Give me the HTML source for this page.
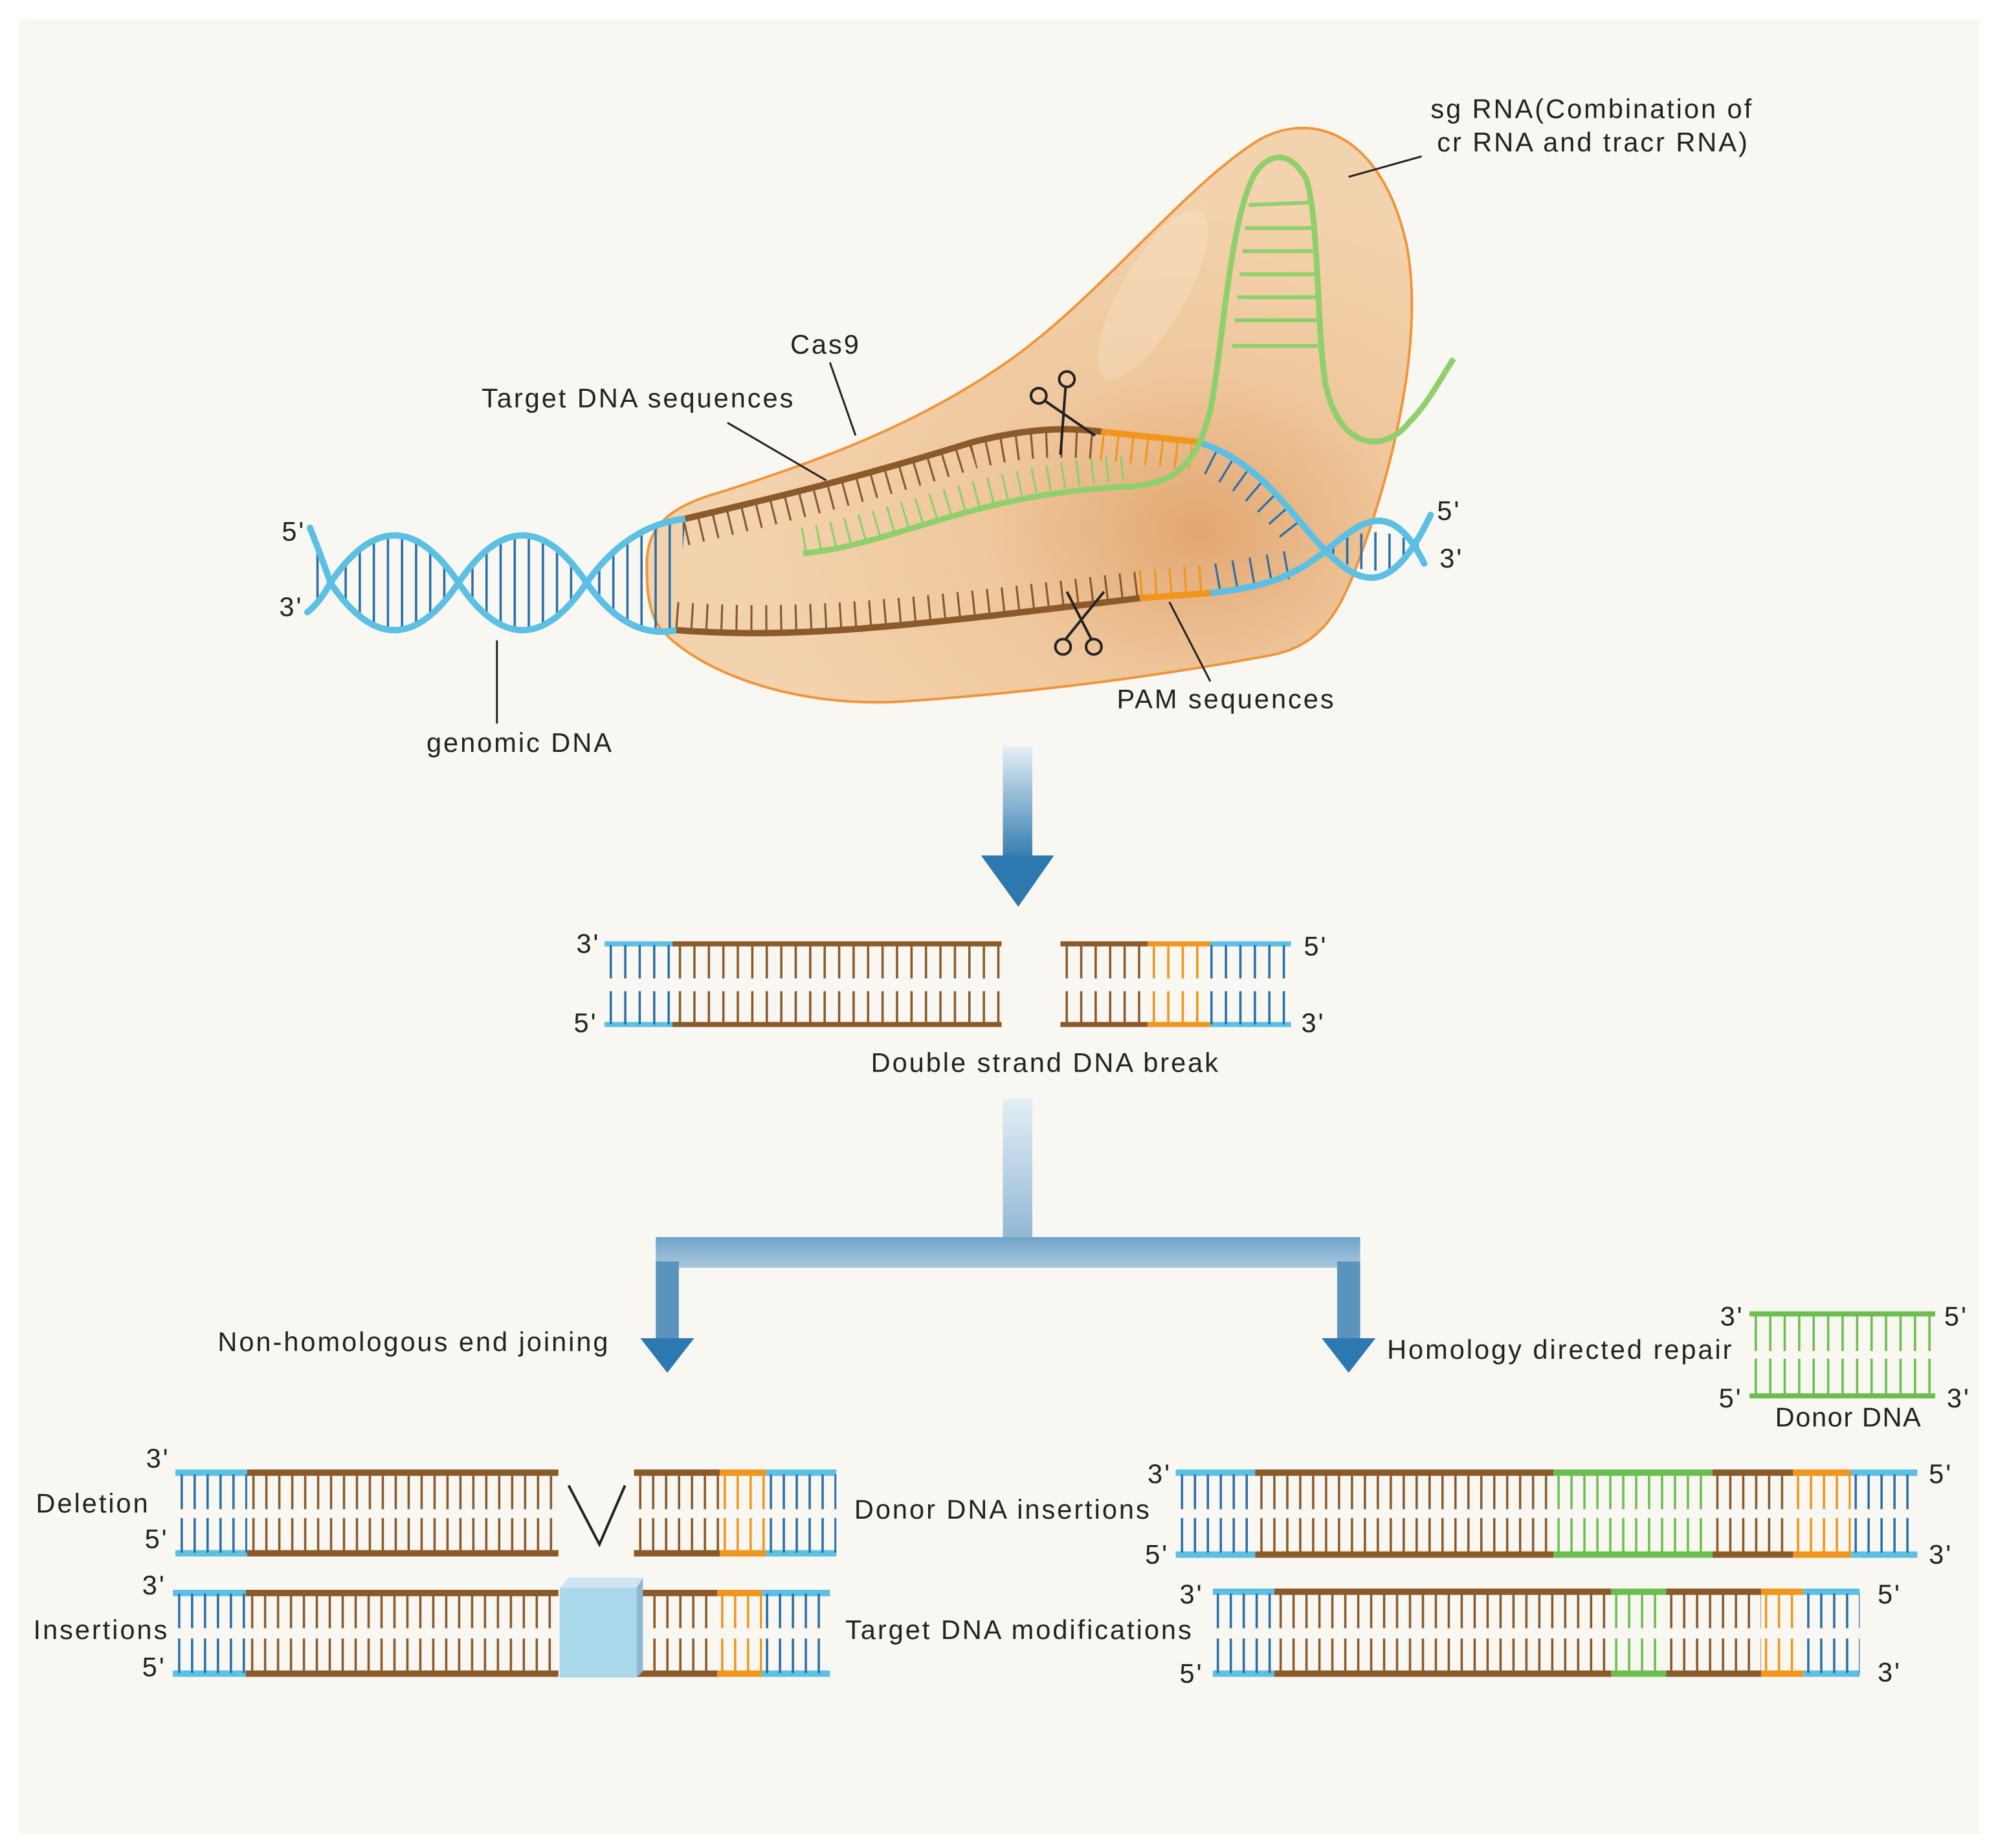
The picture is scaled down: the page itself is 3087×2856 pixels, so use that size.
<!DOCTYPE html>
<html><head><meta charset="utf-8"><style>
html,body{margin:0;padding:0;background:#fff}
svg{display:block}
text{font-family:"Liberation Sans",Arial,sans-serif;fill:#222;font-size:21px;letter-spacing:1.5px}
</style></head><body>
<svg width="3087" height="2856" viewBox="0 0 1560 1443" xmlns="http://www.w3.org/2000/svg">
<defs>
<radialGradient id="cas" cx="0.72" cy="0.7" r="0.6">
<stop offset="0" stop-color="#e2a772"/><stop offset="0.45" stop-color="#efc79c"/><stop offset="1" stop-color="#f3d3ae"/></radialGradient>
<linearGradient id="arv" x1="0" y1="0" x2="0" y2="1"><stop offset="0" stop-color="#e4eef5"/><stop offset="1" stop-color="#2d78ae"/></linearGradient>
<linearGradient id="arv2" x1="0" y1="0" x2="0" y2="1"><stop offset="0" stop-color="#e4eef5"/><stop offset="1" stop-color="#8db5d3"/></linearGradient>
<linearGradient id="arh" x1="0" y1="0" x2="0" y2="1"><stop offset="0" stop-color="#6fa3c8"/><stop offset="1" stop-color="#a9c7dd"/></linearGradient>
<clipPath id="hx">
<path d="M258,455 Q308,529 358,455 Q308,381 258,455Z M358,455 Q408,381 458,455 Q408,529 358,455Z M458,455 Q490,500 528,492 L535,405 Q490,410 458,455Z M240,478 L258,455 L242,412Z"/>
<path d="M1035,430 Q1070,402 1112,428 Q1075,462 1035,430Z"/>
</clipPath>
</defs>
<rect width="1560" height="1443" fill="#fff"/>
<rect x="15" y="15" width="1531" height="1417" fill="#f8f7f2"/>

<!-- Cas9 -->
<path d="M505,440 C505,410 525,395 560,385 C640,360 720,330 790,280 C860,230 930,140 985,108 C1030,85 1080,110 1098,190 C1112,260 1090,360 1060,440 C1045,480 1030,505 990,512 C920,525 820,540 700,548 C610,552 540,520 515,490 C505,475 505,455 505,440Z" fill="url(#cas)" stroke="#f0953a" stroke-width="2"/>
<ellipse cx="900" cy="230" rx="25" ry="75" fill="#fbe8d4" opacity="0.3" transform="rotate(30 900 230)"/>

<!-- helix rungs -->
<g clip-path="url(#hx)">
<line x1="236" y1="455" x2="540" y2="455" stroke="#2a6fa8" stroke-width="140" stroke-dasharray="1.8 9.2"/>
<line x1="930" y1="430" x2="1115" y2="430" stroke="#2a6fa8" stroke-width="140" stroke-dasharray="1.8 9.2"/>
</g>

<!-- ticks inside -->
<path d="M535,415 C620,395 680,380 760,355 C800,345 830,345 860,348" fill="none" stroke="#8b5a2b" stroke-width="22" stroke-dasharray="1.6 10"/>
<path d="M860,348 L930,356" fill="none" stroke="#f0961e" stroke-width="22" stroke-dasharray="1.6 10"/>
<path d="M945,360 C975,375 995,395 1012,418" fill="none" stroke="#2a6fa8" stroke-width="22" stroke-dasharray="1.6 12"/>
<path d="M528,481 C620,488 700,480 890,457" fill="none" stroke="#8b5a2b" stroke-width="22" stroke-dasharray="1.6 10"/>
<path d="M890,456 L945,452" fill="none" stroke="#f0961e" stroke-width="22" stroke-dasharray="1.6 10"/>
<path d="M950,451 L1012,440" fill="none" stroke="#2a6fa8" stroke-width="22" stroke-dasharray="1.6 12"/>

<!-- helix strands -->
<g fill="none" stroke="#5bc0e3" stroke-width="5" stroke-linecap="round">
<path d="M242,412 Q250,432 258,455 Q308,529 358,455 Q408,381 458,455 Q490,500 528,492"/>
<path d="M240,478 Q250,470 258,455 Q308,381 358,455 Q408,529 458,455 Q490,410 535,405"/>
<path d="M935,345 C985,360 1010,405 1035,430 C1060,455 1085,470 1117,402"/>
<path d="M945,463 C990,458 1010,450 1035,430 C1060,410 1085,385 1112,440"/>
</g>
<path d="M535,405 C620,385 680,370 760,345 C800,335 830,333 860,337" fill="none" stroke="#8b5a2b" stroke-width="5"/>
<path d="M860,337 L935,345" fill="none" stroke="#f0961e" stroke-width="5"/>
<path d="M528,492 C620,499 700,490 890,467" fill="none" stroke="#8b5a2b" stroke-width="5"/>
<path d="M890,467 L945,463" fill="none" stroke="#f0961e" stroke-width="5"/>

<!-- sgRNA -->
<path d="M627,422 C700,410 760,375 880,365" fill="none" stroke="#8fcf6c" stroke-width="20" stroke-dasharray="1.6 10"/>
<g stroke="#8fcf6c" stroke-width="3">
<line x1="975" y1="160" x2="1022" y2="158"/><line x1="972" y1="178" x2="1024" y2="178"/><line x1="970" y1="196" x2="1025" y2="196"/><line x1="968" y1="214" x2="1026" y2="214"/><line x1="966" y1="232" x2="1027" y2="232"/><line x1="964" y1="250" x2="1028" y2="250"/><line x1="962" y1="270" x2="1029" y2="270"/>
</g>
<path d="M627,432 C700,425 760,385 880,380 C920,378 935,360 945,320 C955,270 960,170 980,135 C992,118 1008,118 1020,140 C1030,170 1028,260 1035,300 C1045,350 1080,355 1100,330 C1115,315 1125,295 1135,280" fill="none" stroke="#8fcf6c" stroke-width="4.5"/>

<!-- scissors -->
<g fill="none" stroke="#222" stroke-width="2">
<circle cx="811" cy="309" r="6"/><circle cx="833" cy="296" r="6"/>
<line x1="816" y1="313" x2="855" y2="340"/><line x1="832" y1="302" x2="828" y2="355"/>
<circle cx="830" cy="505" r="6"/><circle cx="854" cy="505" r="6"/>
<line x1="832" y1="499" x2="862" y2="462"/><line x1="852" y1="499" x2="833" y2="462"/>
</g>

<!-- top labels -->
<text x="1117" y="92">sg RNA(Combination of</text>
<text x="1122" y="118">cr RNA and tracr RNA)</text>
<text x="617" y="276">Cas9</text>
<text x="376" y="318">Target DNA sequences</text>
<text x="333" y="587">genomic DNA</text>
<text x="872" y="553">PAM sequences</text>
<g font-size="17" style="letter-spacing:0">
<text x="220" y="422">5'</text>
<text x="218" y="481">3'</text>
<text x="1122" y="406">5'</text>
<text x="1124" y="443">3'</text>
</g>
<g stroke="#222" stroke-width="1.5">
<line x1="1110" y1="122" x2="1053" y2="138"/><line x1="648" y1="283" x2="668" y2="340"/>
<line x1="568" y1="330" x2="645" y2="375"/><line x1="388" y1="565" x2="388" y2="500"/>
<line x1="945" y1="532" x2="913" y2="470"/>
</g>

<!-- arrows -->
<rect x="783" y="583" width="23" height="90" fill="url(#arv)"/>
<polygon points="766,668 823,668 795,708" fill="#2d78ae"/>
<rect x="783" y="858" width="23" height="115" fill="url(#arv2)"/>
<rect x="512" y="966" width="550" height="24" fill="url(#arh)"/>
<rect x="512" y="985" width="18" height="62" fill="#5b93bd"/>
<rect x="1044" y="985" width="18" height="62" fill="#5b93bd"/>
<polygon points="500,1045 542,1045 521,1072" fill="#2d78ae"/>
<polygon points="1032,1045 1074,1045 1053,1072" fill="#2d78ae"/>

<!-- mid ladder -->
<g stroke-width="4">
<line x1="472" y1="737" x2="525" y2="737" stroke="#5bc0e3"/><line x1="472" y1="800" x2="525" y2="800" stroke="#5bc0e3"/>
<line x1="525" y1="737" x2="782" y2="737" stroke="#8b5a2b"/><line x1="525" y1="800" x2="782" y2="800" stroke="#8b5a2b"/>
<line x1="828" y1="737" x2="896" y2="737" stroke="#8b5a2b"/><line x1="828" y1="800" x2="896" y2="800" stroke="#8b5a2b"/>
<line x1="896" y1="737" x2="945" y2="737" stroke="#f0961e"/><line x1="896" y1="800" x2="945" y2="800" stroke="#f0961e"/>
<line x1="945" y1="737" x2="1008" y2="737" stroke="#5bc0e3"/><line x1="945" y1="800" x2="1008" y2="800" stroke="#5bc0e3"/>
</g>
<g stroke-dasharray="1.8 9.5">
<path d="M476,751H525M476,787H525M945,751H1006M945,787H1006" stroke="#2a6fa8" stroke-width="26"/>
<path d="M530,751H782M530,787H782M832,751H896M832,787H896" stroke="#8b5a2b" stroke-width="26"/>
<path d="M900,751H945M900,787H945" stroke="#f0961e" stroke-width="26"/>
</g>
<g font-size="17" style="letter-spacing:0">
<text x="450" y="744">3'</text><text x="448" y="806">5'</text>
<text x="1018" y="746">5'</text><text x="1016" y="806">3'</text>
</g>
<text x="680" y="837">Double strand DNA break</text>

<text x="170" y="1055">Non-homologous end joining</text>
<text x="1083" y="1061">Homology directed repair</text>

<!-- donor DNA -->
<g stroke="#6cbf4f">
<line x1="1366" y1="1026" x2="1511" y2="1026" stroke-width="4"/><line x1="1366" y1="1090" x2="1511" y2="1090" stroke-width="4"/>
<path d="M1370,1041H1511M1370,1075H1511" stroke-width="28" stroke-dasharray="1.8 9.5"/>
</g>
<g font-size="17" style="letter-spacing:0">
<text x="1343" y="1035">3'</text><text x="1342" y="1099">5'</text>
<text x="1518" y="1035">5'</text><text x="1520" y="1099">3'</text>
<text x="1386" y="1114" style="letter-spacing:0.8px">Donor DNA</text>
</g>

<!-- bottom ladders -->
<g stroke-width="5">
<path d="M137,1150H193M137,1213H193M598,1150H653M598,1213H653M135,1244H192M135,1307H192M595,1244H648M595,1307H648" stroke="#5bc0e3"/>
<path d="M193,1150H436M193,1213H436M495,1150H562M495,1213H562M192,1244H436M192,1307H436M497,1244H560M497,1307H560" stroke="#8b5a2b"/>
<path d="M562,1150H598M562,1213H598M560,1244H595M560,1307H595" stroke="#f0961e"/>
<path d="M918,1150H980M918,1214H980M1445,1150H1497M1445,1214H1497M947,1243H995M947,1307H995M1408,1243H1452M1408,1307H1452" stroke="#5bc0e3"/>
<path d="M980,1150H1213M980,1214H1213M1337,1150H1400M1337,1214H1400M995,1243H1258M995,1307H1258M1301,1243H1375M1301,1307H1375" stroke="#8b5a2b"/>
<path d="M1213,1150H1337M1213,1214H1337M1258,1243H1301M1258,1307H1301" stroke="#6cbf4f"/>
<path d="M1400,1150H1445M1400,1214H1445M1375,1243H1408M1375,1307H1408" stroke="#f0961e"/>
</g>
<g stroke-width="27" stroke-dasharray="1.8 8.3">
<path d="M141,1165H193M141,1199H193M601,1165H653M601,1199H653M139,1258H192M139,1293H192M598,1258H648M598,1293H648" stroke="#2a6fa8"/>
<path d="M197,1165H436M197,1199H436M499,1165H562M499,1199H562M196,1258H436M196,1293H436M500,1258H560M500,1293H560" stroke="#8b5a2b"/>
<path d="M565,1165H598M565,1199H598M563,1258H595M563,1293H595" stroke="#f0961e"/>
<path d="M922,1165H980M922,1199H980M1448,1165H1497M1448,1199H1497M950,1258H995M950,1293H995M1411,1258H1452M1411,1293H1452" stroke="#2a6fa8"/>
<path d="M984,1165H1213M984,1199H1213M1340,1165H1400M1340,1199H1400M999,1258H1258M999,1293H1258M1304,1258H1375M1304,1293H1375" stroke="#8b5a2b"/>
<path d="M1216,1165H1337M1216,1199H1337M1261,1258H1301M1261,1293H1301" stroke="#6cbf4f"/>
<path d="M1403,1165H1445M1403,1199H1445M1378,1258H1408M1378,1293H1408" stroke="#f0961e"/>
</g>
<polyline points="444,1160 468,1206 488,1160" fill="none" stroke="#222" stroke-width="2"/>
<polygon points="437,1240 444,1232 502,1232 497,1240" fill="#cfe6f2"/>
<polygon points="497,1240 502,1232 502,1305 497,1310" fill="#8fb7d4"/>
<rect x="437" y="1240" width="60" height="70" fill="#acd8ec"/>

<text x="28" y="1181">Deletion</text>
<text x="26" y="1280">Insertions</text>
<text x="667" y="1186">Donor DNA insertions</text>
<text x="660" y="1280">Target DNA modifications</text>
<g font-size="17" style="letter-spacing:0">
<text x="114" y="1146">3'</text><text x="113" y="1209">5'</text>
<text x="111" y="1245">3'</text><text x="111" y="1309">5'</text>
<text x="896" y="1158">3'</text><text x="894" y="1221">5'</text>
<text x="1506" y="1158">5'</text><text x="1506" y="1221">3'</text>
<text x="921" y="1252">3'</text><text x="921" y="1314">5'</text>
<text x="1466" y="1252">5'</text><text x="1466" y="1313">3'</text>
</g>
</svg>
</body></html>
